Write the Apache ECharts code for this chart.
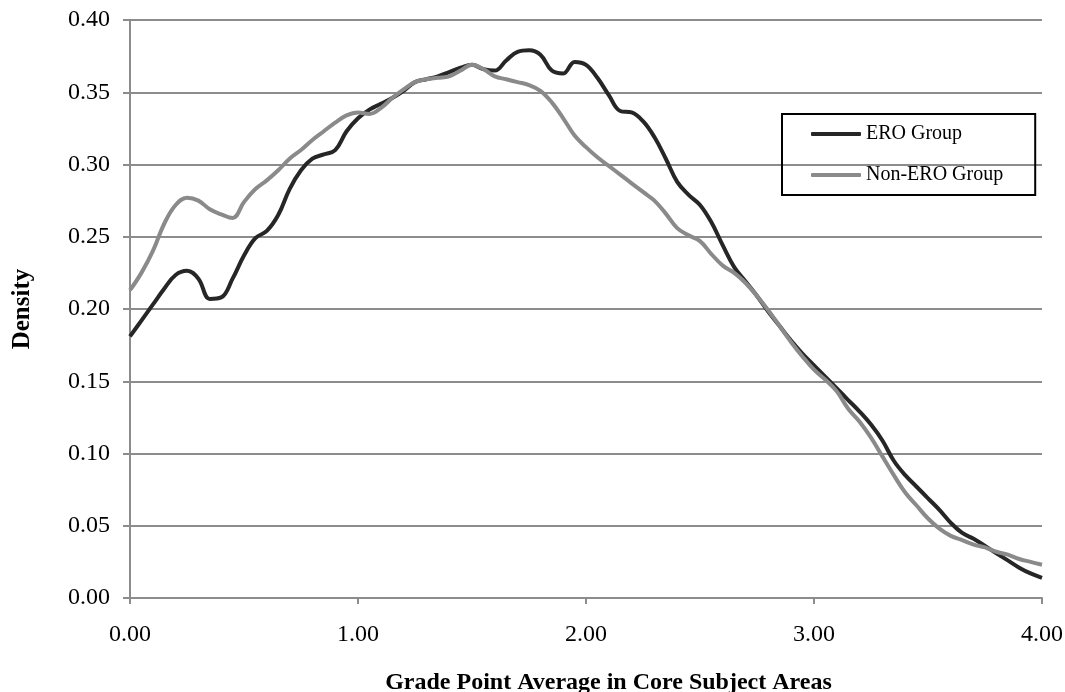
<!DOCTYPE html>
<html>
<head>
<meta charset="utf-8">
<script src="https://cdn.jsdelivr.net/npm/echarts@6/dist/echarts.min.js"></script>
<style>
  html, body { margin: 0; padding: 0; background: #fff; }
  #main { width: 1065px; height: 692px; }
</style>
</head>
<body>
<div id="main"></div>
<script>
// GPA grid (step 0.05)
var gpa = [];
for (var i = 0; i <= 80; i++) gpa.push(+(i * 0.05).toFixed(2));

// density
var eroDensity = [
  0.181, 0.192, 0.203, 0.214, 0.2235, 0.2264, 0.221, 0.207, 0.208, 0.221,
  0.237, 0.249, 0.254, 0.265, 0.283, 0.296, 0.304, 0.307, 0.310, 0.323,
  0.332, 0.338, 0.342, 0.346, 0.351, 0.357, 0.359, 0.361, 0.364, 0.367,
  0.369, 0.366, 0.365, 0.372, 0.378, 0.379, 0.376, 0.365, 0.363, 0.371,
  0.369, 0.360, 0.348, 0.337, 0.336, 0.330, 0.319, 0.304, 0.288, 0.279,
  0.272, 0.260, 0.244, 0.229, 0.219, 0.209, 0.198, 0.188, 0.178, 0.169,
  0.161, 0.153, 0.145, 0.137, 0.129, 0.120, 0.109, 0.095, 0.085, 0.077,
  0.069, 0.061, 0.052, 0.045, 0.041, 0.036, 0.031, 0.026, 0.021, 0.017,
  0.014
];
var nonEroDensity = [
  0.213, 0.225, 0.240, 0.259, 0.272, 0.277, 0.275, 0.269, 0.2655, 0.263,
  0.274, 0.283, 0.289, 0.296, 0.304, 0.310, 0.317, 0.323, 0.329, 0.334,
  0.336, 0.335, 0.339, 0.346, 0.352, 0.357, 0.359, 0.360, 0.361, 0.365,
  0.369, 0.366, 0.361, 0.359, 0.357, 0.355, 0.351, 0.343, 0.332, 0.320,
  0.312, 0.305, 0.299, 0.293, 0.287, 0.281, 0.275, 0.266, 0.256, 0.251,
  0.247, 0.238, 0.230, 0.225, 0.218, 0.209, 0.199, 0.188, 0.177, 0.167,
  0.158, 0.151, 0.143, 0.131, 0.122, 0.111, 0.098, 0.085, 0.073, 0.064,
  0.055, 0.048, 0.043, 0.040, 0.037, 0.035, 0.032, 0.030, 0.027, 0.025,
  0.023
];

var seriesNames = ['ERO Group', 'Non-ERO Group'];
var seriesColors = ['#262626', '#8a8a8a'];

function pairs(ys) {
    return gpa.map(function(x, i) { return [x, ys[i]]; });
}

var font = 'Liberation Serif, Times New Roman, serif';
var axisGray = '#8c8c8c';

var myChart = echarts.init(document.getElementById('main'));

var option = {
    animation: false,
    backgroundColor: '#fff',
    grid: { left: 130, right: 23, top: 20, bottom: 94, outerBoundsMode: 'none', containLabel: false },
    legend: {
        data: seriesNames,
        orient: 'vertical',
        left: 782,
        top: 114,
        padding: [10, 32, 10, 29],
        itemGap: 21,
        itemWidth: 50,
        itemHeight: 4,
        icon: 'roundRect',
        borderColor: '#000',
        borderWidth: 2,
        textStyle: { fontFamily: font, fontSize: 20, color: '#000' }
    },
    xAxis: {
        type: 'value',
        min: 0,
        max: 4,
        interval: 1,
        name: 'Grade Point Average in Core Subject Areas',
        nameLocation: 'middle',
        nameGap: 73,
        nameTextStyle: { fontFamily: font, fontSize: 24, fontWeight: 'bold', color: '#000', padding: [0, 0, 0, 45] },
        axisLine: { lineStyle: { color: axisGray, width: 2 } },
        axisTick: { show: true, length: 6, lineStyle: { color: axisGray, width: 2 } },
        axisLabel: {
            margin: 25,
            fontFamily: font, fontSize: 24, color: '#000',
            formatter: function(v) { return v.toFixed(2); }
        },
        splitLine: { show: false }
    },
    yAxis: {
        type: 'value',
        min: 0,
        max: 0.4,
        interval: 0.05,
        name: 'Density',
        nameLocation: 'middle',
        nameRotate: 90,
        nameGap: 95,
        nameTextStyle: { fontFamily: font, fontSize: 25, fontWeight: 'bold', color: '#000' },
        axisLine: { show: true, lineStyle: { color: axisGray, width: 2 } },
        axisTick: { show: true, length: 7, lineStyle: { color: axisGray, width: 2 } },
        axisLabel: {
            margin: 20,
            fontFamily: font, fontSize: 24, color: '#000',
            formatter: function(v) { return v.toFixed(2); }
        },
        splitLine: { show: true, lineStyle: { color: axisGray, width: 2 } }
    },
    series: [{
        name: seriesNames[0],
        type: 'line',
        data: pairs(eroDensity),
        smooth: 0.4,
        symbol: 'none',
        color: seriesColors[0],
        lineStyle: { width: 4, color: seriesColors[0] }
    }, {
        name: seriesNames[1],
        type: 'line',
        data: pairs(nonEroDensity),
        smooth: 0.4,
        symbol: 'none',
        color: seriesColors[1],
        lineStyle: { width: 4, color: seriesColors[1] }
    }]
};

myChart.setOption(option);
</script>
</body>
</html>
